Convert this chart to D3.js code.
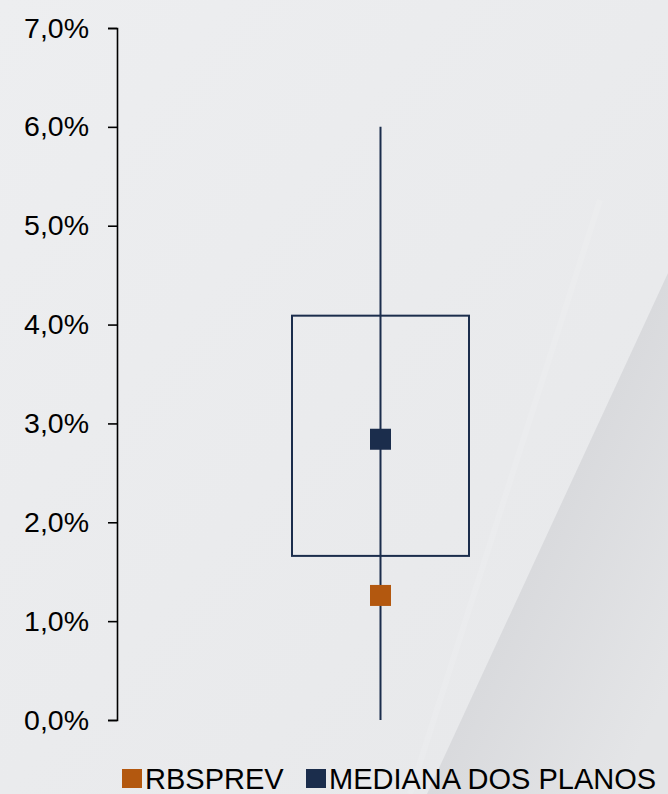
<!DOCTYPE html>
<html>
<head>
<meta charset="utf-8">
<script src="https://cdn.jsdelivr.net/npm/d3@7"></script>
<style>
  body { margin: 0; background: #ecedef; }
  #chart { width: 668px; height: 794px; }
  text { font-family: "Liberation Sans", Arial, sans-serif; fill: #000; }
</style>
</head>
<body>
<div id="chart"></div>
<script>
// data
var yTicks = [0, 0.01, 0.02, 0.03, 0.04, 0.05, 0.06, 0.07];
var whisker = [0.0, 0.06];        // min, max
var boxRange = [0.0166, 0.0409];  // lower, upper
var medianValue = 0.0284;
var planValue = 0.0126;
var legendNames = ['RBSPREV', 'MEDIANA DOS PLANOS'];
var legendColors = ['#b3580f', '#1b2d4c'];

var width = 668, height = 794;

var svg = d3.select('#chart').append('svg')
    .attr('width', width)
    .attr('height', height);

// background
var defs = svg.append('defs');
var bg = defs.append('linearGradient').attr('id', 'bg')
    .attr('x1', 0).attr('y1', 0).attr('x2', 1).attr('y2', 1);
bg.append('stop').attr('offset', '0%').attr('stop-color', '#edeef0');
bg.append('stop').attr('offset', '100%').attr('stop-color', '#e7e8ea');
var shade = defs.append('linearGradient').attr('id', 'shade')
    .attr('x1', 0).attr('y1', 0.2).attr('x2', 0.8).attr('y2', 1);
shade.append('stop').attr('offset', '0%').attr('stop-color', '#d1d2d5');
shade.append('stop').attr('offset', '50%').attr('stop-color', '#d9dadd');
shade.append('stop').attr('offset', '100%').attr('stop-color', '#e4e5e7');

svg.append('rect').attr('width', width).attr('height', height).attr('fill', 'url(#bg)');
// faint light streak
svg.append('line')
    .attr('x1', 600).attr('y1', 200).attr('x2', 410).attr('y2', 794)
    .attr('stroke', '#f2f3f4').attr('stroke-width', 6).attr('opacity', 0.25);
// darker wedge
svg.append('path')
    .attr('d', 'M668,273 L668,794 L427,794 Z')
    .attr('fill', 'url(#shade)');

// scales
var y = d3.scaleLinear().domain([0, 0.07]).range([720, 28]);
var cx = 380.5;
var boxW = 177;

var fmt = function(d) { return d3.format('.1%')(d).replace('.', ','); };

var axis = svg.append('g')
    .attr('transform', 'translate(117,0)')
    .call(d3.axisLeft(y).tickValues(yTicks).tickFormat(fmt).tickSize(9).tickPadding(19));
axis.select('.domain').attr('stroke', '#000').attr('stroke-width', 1.6);
axis.selectAll('.tick line').attr('stroke', '#000').attr('stroke-width', 1.6);
axis.selectAll('.tick text')
    .style('font-size', '28.5px')
    .style('font-family', '"Liberation Sans", Arial, sans-serif')
    .attr('fill', '#000');

// box
svg.append('rect')
    .attr('x', cx - boxW / 2)
    .attr('y', y(boxRange[1]))
    .attr('width', boxW)
    .attr('height', y(boxRange[0]) - y(boxRange[1]))
    .attr('fill', 'none')
    .attr('stroke', '#1b2d4c')
    .attr('stroke-width', 2);

// whisker
svg.append('line')
    .attr('x1', cx).attr('x2', cx)
    .attr('y1', y(whisker[1])).attr('y2', y(whisker[0]))
    .attr('stroke', '#1b2d4c')
    .attr('stroke-width', 2);

// markers
var sq = 21;
svg.append('rect')
    .attr('x', cx - sq / 2).attr('y', y(medianValue) - sq / 2)
    .attr('width', sq).attr('height', sq)
    .attr('fill', legendColors[1]);
svg.append('rect')
    .attr('x', cx - sq / 2).attr('y', y(planValue) - sq / 2)
    .attr('width', sq).attr('height', sq)
    .attr('fill', legendColors[0]);

// legend
var legendX = [122, 306];
var leg = svg.selectAll('.leg')
    .data(legendNames)
  .enter().append('g')
    .attr('class', 'leg')
    .attr('transform', function(d, i) { return 'translate(' + legendX[i] + ',769)'; });
leg.append('rect')
    .attr('width', 20).attr('height', 19)
    .attr('fill', function(d, i) { return legendColors[i]; });
leg.append('text')
    .attr('x', 23).attr('y', 20)
    .style('font-size', '29px')
    .text(function(d) { return d; });
</script>
</body>
</html>
